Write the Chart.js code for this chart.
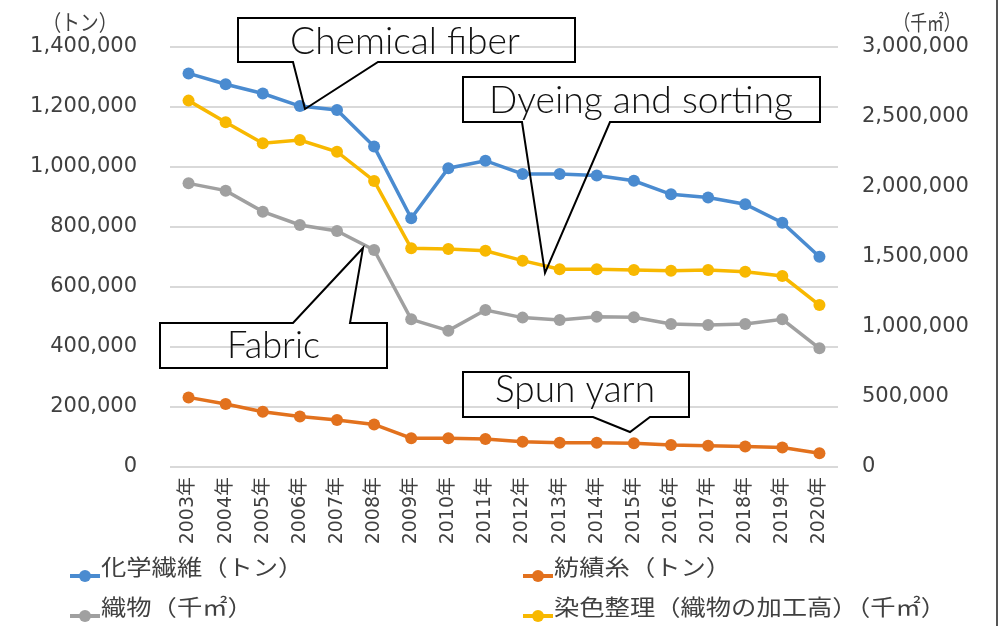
<!DOCTYPE html>
<html><head><meta charset="utf-8">
<script src="https://cdn.jsdelivr.net/npm/chart.js@4/dist/chart.umd.min.js"></script>
<style>html,body{margin:0;padding:0;background:#fff;overflow:hidden}canvas{display:block}</style>
</head><body>
<canvas id="c" width="1002" height="626"></canvas>
<script>
// ---- data ----
const years = ['2003年','2004年','2005年','2006年','2007年','2008年','2009年','2010年','2011年','2012年','2013年','2014年','2015年','2016年','2017年','2018年','2019年','2020年'];
const chemicalFiber = [1312000,1276000,1245000,1203000,1190000,1068000,829000,996000,1021000,977000,977000,972000,954000,909000,898000,876000,814000,701000];
const spunYarn = [232000,210000,184000,168000,157000,142000,96000,96000,93000,84000,81000,81000,79000,73000,71000,68000,65000,46000];
const fabric = [2026000,1974000,1824000,1729000,1686000,1550000,1055000,974000,1121000,1067000,1050000,1074000,1069000,1021000,1014000,1021000,1055000,848000];
const dyeing = [2617000,2462000,2312000,2336000,2252000,2043000,1562000,1557000,1545000,1474000,1412000,1412000,1407000,1402000,1407000,1395000,1364000,1157000];
const seriesLabels = ['化学繊維（トン）','紡績糸（トン）','織物（千㎡）','染色整理（織物の加工高）（千㎡）'];
const leftAxisTitle = '（トン）';
const rightAxisTitle = '（千㎡）';
const leftMax = 1400000, leftStep = 200000;
const rightMax = 3000000, rightStep = 500000;
const calloutTexts = ['Chemical fiber','Dyeing and sorting','Fabric','Spun yarn'];

// ---- styles / layout ----
const colors = ['#4A8BD0','#E2711D','#A0A0A0','#F8B800'];
const tickColor = '#404040';
const tickFont = {family:"'DejaVu Sans','Noto Sans CJK JP',sans-serif", size:21};
const xFont = {family:"'DejaVu Sans','Noto Sans CJK JP',sans-serif", size:19};

// callout geometry: box [x1,y1,x2,y2], pointer side, base points, tip, text target box
const callouts = [
  {box:[238,18,575,62], side:'bottom', b1:293, b2:378, tip:[305,109], tx:290, tw:230, ty:54},
  {box:[463,77,820,122], side:'bottom', b1:522, b2:610, tip:[545,273], tx:489, tw:304, ty:113},
  {box:[160,323,387,368], side:'top', b1:293, b2:350, tip:[363,248], tx:227, tw:93, ty:358},
  {box:[463,372,689,417], side:'bottom', b1:593, b2:650, tip:[630,432], tx:495, tw:160, ty:402}
];
const legendPos = [[70,567],[523,567],[70,607],[523,607]];

function mkDs(i, data, axis){
  return {label:seriesLabels[i], data, yAxisID:axis, borderColor:colors[i], backgroundColor:colors[i],
    borderWidth:3.5, pointRadius:6, pointHoverRadius:6, pointBorderWidth:0, pointBackgroundColor:colors[i], tension:0};
}

const overlay = {
  id:'overlay',
  afterDraw(chart){
    const ctx = chart.ctx;
    ctx.save();
    // axis titles
    ctx.fillStyle = tickColor;
    ctx.textAlign = 'center'; ctx.textBaseline = 'middle';
    ctx.font = "22px 'Noto Sans CJK JP'";
    ctx.save(); ctx.translate(80, 22); ctx.scale(0.85,1); ctx.fillText(leftAxisTitle, 0, 0); ctx.restore();
    ctx.font = "21px 'Noto Sans CJK JP'";
    ctx.save(); ctx.translate(927, 22); ctx.scale(0.8,1); ctx.fillText(rightAxisTitle, 0, 0); ctx.restore();
    // legend
    chart.data.datasets.forEach((ds,i)=>{
      const [x,y] = legendPos[i];
      ctx.strokeStyle = ds.borderColor; ctx.lineWidth = 4;
      ctx.beginPath(); ctx.moveTo(x, y+9); ctx.lineTo(x+30, y+9); ctx.stroke();
      ctx.fillStyle = ds.borderColor;
      ctx.beginPath(); ctx.arc(x+15, y+9, 6, 0, Math.PI*2); ctx.fill();
      ctx.fillStyle = tickColor;
      ctx.font = "22px 'Noto Sans CJK JP'";
      ctx.textAlign = 'left'; ctx.textBaseline = 'middle';
      ctx.save(); ctx.translate(x+31, y); ctx.scale(1.15,1); ctx.fillText(ds.label, 0, 0); ctx.restore();
    });
    // callouts
    callouts.forEach((c,i)=>{
      const [x1,y1,x2,y2] = c.box;
      ctx.strokeStyle = '#000'; ctx.lineWidth = 2; ctx.lineJoin = 'miter';
      ctx.beginPath();
      if (c.side === 'bottom'){
        ctx.moveTo(x1,y1); ctx.lineTo(x2,y1); ctx.lineTo(x2,y2); ctx.lineTo(c.b2,y2);
        ctx.lineTo(c.tip[0],c.tip[1]); ctx.lineTo(c.b1,y2); ctx.lineTo(x1,y2); ctx.closePath();
      } else {
        ctx.moveTo(x1,y1); ctx.lineTo(c.b1,y1); ctx.lineTo(c.tip[0],c.tip[1]); ctx.lineTo(c.b2,y1);
        ctx.lineTo(x2,y1); ctx.lineTo(x2,y2); ctx.lineTo(x1,y2); ctx.closePath();
      }
      ctx.stroke();
      ctx.fillStyle = '#111';
      ctx.font = "300 38px Lato, 'Open Sans', sans-serif";
      ctx.textAlign = 'left'; ctx.textBaseline = 'alphabetic';
      const w = ctx.measureText(calloutTexts[i]).width;
      ctx.save(); ctx.translate(c.tx, c.ty); ctx.scale(c.tw / w, 1); ctx.fillText(calloutTexts[i], 0, 0); ctx.restore();
    });
    // right frame line
    ctx.strokeStyle = '#555'; ctx.lineWidth = 2;
    ctx.beginPath(); ctx.moveTo(997, 0); ctx.lineTo(997, 626); ctx.stroke();
    ctx.restore();
  }
};

function make(){
  new Chart(document.getElementById('c'), {
    type:'line',
    data:{labels:years, datasets:[
      mkDs(0, chemicalFiber, 'y'),
      mkDs(1, spunYarn, 'y'),
      mkDs(2, fabric, 'y1'),
      mkDs(3, dyeing, 'y1')
    ]},
    options:{
      responsive:false, animation:false, devicePixelRatio:1,
      layout:{padding:{left:0,right:0,top:47,bottom:79}},
      plugins:{legend:{display:false}, tooltip:{enabled:false}},
      scales:{
        x:{offset:true, grid:{display:false, drawTicks:false}, border:{display:false},
           ticks:{minRotation:90, maxRotation:90, autoSkip:false, padding:10, color:tickColor, font:xFont},
           afterFit(s){ s.height = 80; }},
        y:{position:'left', min:0, max:leftMax,
           grid:{color:'#d9d9d9', lineWidth:2, drawTicks:false}, border:{display:false},
           ticks:{stepSize:leftStep, padding:33, color:tickColor, font:tickFont, callback:v=>v.toLocaleString('en-US')},
           afterFit(s){ s.width = 170; }},
        y1:{position:'right', min:0, max:rightMax,
           grid:{display:false, drawTicks:false}, border:{display:false},
           ticks:{stepSize:rightStep, padding:24, color:tickColor, font:tickFont, callback:v=>v.toLocaleString('en-US')},
           afterFit(s){ s.width = 164; }}
      }
    },
    plugins:[overlay]
  });
}
if (document.fonts && document.fonts.load) {
  Promise.all([document.fonts.load("300 38px Lato"), document.fonts.load("22px 'Noto Sans CJK JP'")]).then(make, make);
} else make();
</script>
</body></html>
